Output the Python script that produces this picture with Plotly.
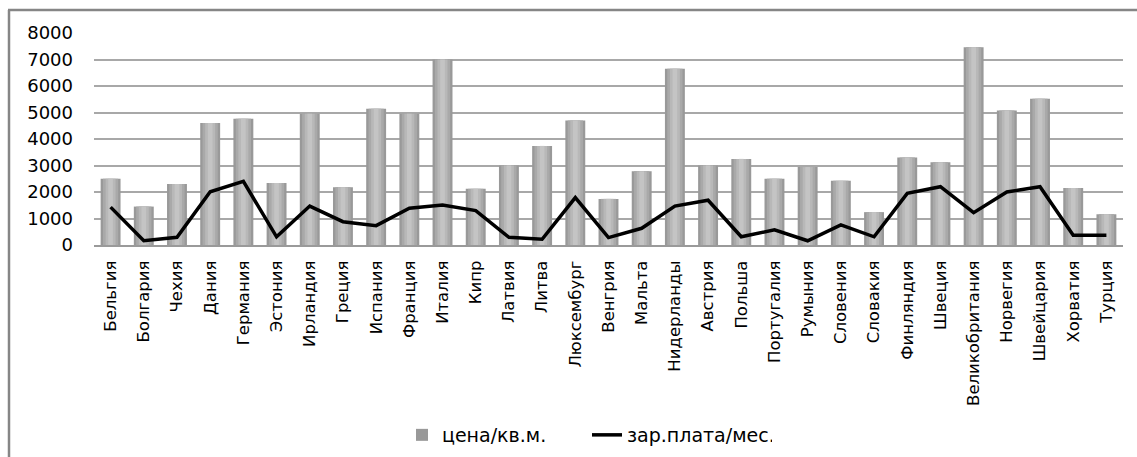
import plotly.graph_objects as go

countries = [
    "Бельгия", "Болгария", "Чехия", "Дания", "Германия", "Эстония", "Ирландия",
    "Греция", "Испания", "Франция", "Италия", "Кипр", "Латвия", "Литва",
    "Люксембург", "Венгрия", "Мальта", "Нидерланды", "Австрия", "Польша",
    "Португалия", "Румыния", "Словения", "Словакия", "Финляндия", "Швеция",
    "Великобритания", "Норвегия", "Швейцария", "Хорватия", "Турция",
]

price_per_sqm = [
    2500, 1450, 2300, 4600, 4760, 2340, 4950,
    2180, 5140, 4950, 7000, 2120, 3000, 3740,
    4700, 1740, 2780, 6650, 3000, 3250,
    2500, 2940, 2420, 1240, 3300, 3120,
    7460, 5080, 5520, 2150, 1160,
]

salary_per_month = [
    1430, 160, 290, 2010, 2400, 310, 1470,
    880, 730, 1390, 1510, 1300, 290, 215,
    1790, 280, 630, 1470, 1690, 310,
    570, 160, 760, 310, 1950, 2200,
    1220, 2000, 2200, 370, 370,
]

y_ticks = [0, 1000, 2000, 3000, 4000, 5000, 6000, 7000, 8000]

FONT = "DejaVu Sans"
W, H = 1137, 457
L, R, T, B = 94, 14, 33, 212

fig = go.Figure()

# column body: dark edges, lighter core to give a rounded look
shades = [("#999999", 0.60, True), ("#a9a9a9", 0.46, False),
          ("#b8b8b8", 0.30, False), ("#c4c4c4", 0.14, False)]
for color, width, show in shades:
    fig.add_trace(go.Bar(
        x=countries, y=price_per_sqm, width=width,
        marker=dict(color=color, line=dict(width=0)),
        name="цена/кв.м.", showlegend=show, legendrank=1,
        hoverinfo="x+y" if show else "skip",
    ))

fig.add_trace(go.Scatter(
    x=countries, y=salary_per_month, mode="lines",
    line=dict(color="#000000", width=3.5),
    name="зар.плата/мес.", legendrank=2,
))

def px_x(p):
    return (p - L) / (W - L - R)

def px_y(p):
    return (H - B - p) / (H - T - B)

# outer chart frame (left and top edges)
frame = dict(type="line", xref="paper", yref="paper",
             line=dict(color="#868686", width=2.5), layer="above")
fig.add_shape(x0=px_x(9), x1=px_x(9), y0=px_y(10), y1=px_y(460), **frame)
fig.add_shape(x0=px_x(8), x1=px_x(1140), y0=px_y(10), y1=px_y(10), **frame)

fig.update_layout(
    width=W, height=H,
    margin=dict(l=L, r=R, t=T, b=B, autoexpand=False),
    paper_bgcolor="white", plot_bgcolor="white",
    barmode="overlay",
    font=dict(family=FONT, color="#000000", size=16),
    legend=dict(
        orientation="h", x=px_x(402), xanchor="left",
        y=px_y(435), yanchor="middle",
        font=dict(family=FONT, size=19, color="#000000"),
        entrywidth=140, traceorder="normal",
    ),
    showlegend=True,
)

fig.update_xaxes(
    type="category", tickangle=-90, showgrid=False,
    showline=True, linecolor="#9a9a9a", linewidth=2,
    ticks="", tickfont=dict(family=FONT, size=16.5, color="#000000"),
    ticklabelstandoff=7, automargin=False,
)
fig.update_yaxes(
    range=[0, 8000], tickvals=y_ticks, showgrid=True,
    gridcolor="#a8a8a8", gridwidth=1.6, zeroline=False, showline=False,
    ticks="", tickfont=dict(family=FONT, size=18, color="#000000"),
    ticklabelstandoff=20, automargin=False,
)

fig.write_html("out.html")
